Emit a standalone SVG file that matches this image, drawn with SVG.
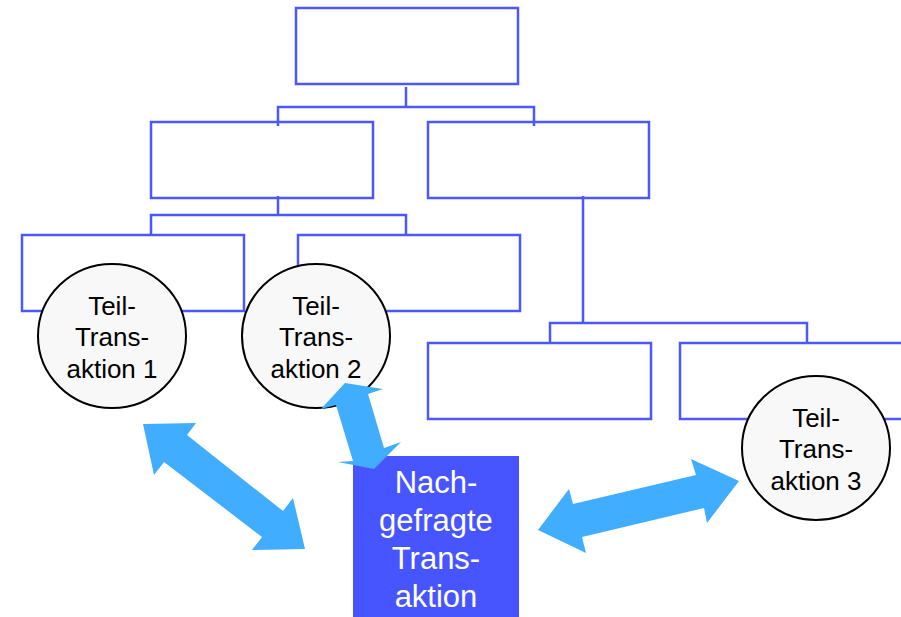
<svg xmlns="http://www.w3.org/2000/svg" width="901" height="617" viewBox="0 0 901 617">
<style>
.box{fill:#ffffff;stroke:#4b57ff;stroke-width:2.5}
.ln{fill:none;stroke:#4b57ff;stroke-width:2.5}
.circ{fill:#f8f8f8;stroke:#000000;stroke-width:2}
.ct{font-family:"Liberation Sans",Arial,sans-serif;font-size:26px;fill:#000000;text-anchor:middle}
.bt{font-family:"Liberation Sans",Arial,sans-serif;font-size:31px;fill:#ffffff;text-anchor:middle}
.arr{fill:#41adff}
</style>
<rect width="901" height="617" fill="#ffffff"/>
<g id="box-top"><rect class="box" x="296" y="8" width="222" height="76"/></g>
<g id="box-mid-left"><rect class="box" x="151" y="122" width="222" height="76"/></g>
<g id="box-mid-right"><rect class="box" x="428" y="122" width="221" height="76"/></g>
<g id="box-bl1"><rect class="box" x="22" y="235" width="222" height="76"/></g>
<g id="box-bl2"><rect class="box" x="298" y="235" width="222" height="76"/></g>
<g id="box-br1"><rect class="box" x="428" y="343" width="223" height="76"/></g>
<g id="box-br2"><rect class="box" x="680" y="343" width="240" height="76"/></g>
<g id="connectors">
<path class="ln" d="M406,87 V107 M278,126 V107 H534 V126"/>
<path class="ln" d="M278,196 V215 M151,235 V215 H406 V235"/>
<path class="ln" d="M583,196 V323 M550,343 V323 H807 V343"/>
</g>
<g id="circle1"><ellipse class="circ" cx="112" cy="336" rx="74" ry="72"/>
<text class="ct" x="112" y="315">Teil-</text><text class="ct" x="112" y="346">Trans-</text><text class="ct" x="112" y="378">aktion 1</text></g>
<g id="circle2"><ellipse class="circ" cx="316" cy="336" rx="74" ry="72"/>
<text class="ct" x="316" y="315">Teil-</text><text class="ct" x="316" y="346">Trans-</text><text class="ct" x="316" y="378">aktion 2</text></g>
<g id="circle3"><ellipse class="circ" cx="816" cy="448" rx="74" ry="72"/>
<text class="ct" x="816" y="427">Teil-</text><text class="ct" x="816" y="458">Trans-</text><text class="ct" x="816" y="490">aktion 3</text></g>
<g id="requested"><rect x="353" y="456" width="166" height="170" fill="#4655ff"/>
<text class="bt" x="436" y="493">Nach-</text><text class="bt" x="436" y="531">gefragte</text><text class="bt" x="436" y="569">Trans-</text><text class="bt" x="436" y="607">aktion</text></g>
<g id="arrows">
<polygon class="arr" points="143,424 196,423 187,435 283,511 293,498 305,549 252,550 262,537 164,462 154,475"/>
<polygon class="arr" points="345,383 383,389 368,394 384,448 401,442 374,469 338,462 353,461 336,405 321,409"/>
<polygon class="arr" points="538,530 569,489 573,504 696,475 691,459 739,481 707,523 704,508 582,537 586,553"/>
</g>
</svg>
